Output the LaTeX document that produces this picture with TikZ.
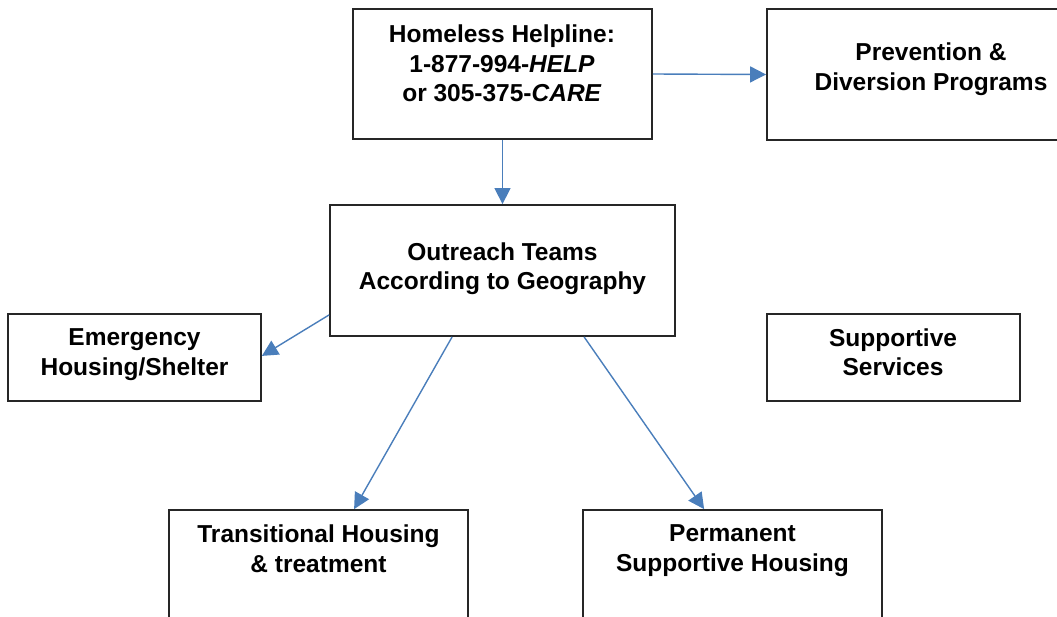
\documentclass[tikz,border=0pt]{standalone}
\usepackage{fontspec}
\setmainfont{Liberation Sans}
\usetikzlibrary{fit,arrows.meta}
\definecolor{arrowblue}{HTML}{4A7EBB}
\definecolor{boxline}{HTML}{262626}
\tikzset{
  box/.style={draw=boxline, line width=1.8pt, inner sep=0pt, fill=none},
  txt/.style={font=\fontsize{24.5}{29.5}\selectfont\bfseries, align=center, inner sep=0pt},
  arr/.style={draw=arrowblue, line width=1.4pt, -{Triangle[length=16pt,width=16pt]}}
}
\begin{document}
\begin{tikzpicture}[x=1pt,y=-1pt]
\useasboundingbox (0,0) rectangle (1057,616);
% boxes
\node[box, fit={(353,9) (652,139)}] (help) {};
\node[box, fit={(767,9) (1075,140)}] (prev) {};
\node[box, fit={(330,205) (675,336)}] (out) {};
\node[box, fit={(8,314) (261,401)}] (emg) {};
\node[box, fit={(767,314) (1020,401)}] (sup) {};
\node[box, fit={(169,510) (468,650)}] (tr) {};
\node[box, fit={(583,510) (882,650)}] (perm) {};
% texts
\node[txt] (helpT) at (502,63.5) {Homeless Helpline:\\1-877-994-\textit{HELP}\\or 305-375-\textit{CARE}};
\node[txt] (prevT) at (931,69) {Prevention \&\\Diversion Programs};
\node[txt] (outT) at (502.5,268.5) {Outreach Teams\\According to Geography};
\node[txt] (emgT) at (134.5,354.5) {Emergency\\Housing/Shelter};
\node[txt] (supT) at (893,352) {Supportive\\Services};
\node[txt] (trT) at (318.5,548.5) {Transitional Housing\\\& treatment};
\node[txt] (permT) at (732.5,550.5) {Permanent\\Supportive Housing};
% connectors
\draw[arr] (help.east) -- (prev.west);
\draw[arr] (help.south) -- (out.north);
\draw[arr] ([yshift=22pt]out.south west) -- ([yshift=46pt]emg.south east);
\draw[arr] ([xshift=123pt]out.south west) -- ([xshift=186pt]tr.north west);
\draw[arr] ([xshift=255pt]out.south west) -- ([xshift=122pt]perm.north west);
\end{tikzpicture}
\end{document}
